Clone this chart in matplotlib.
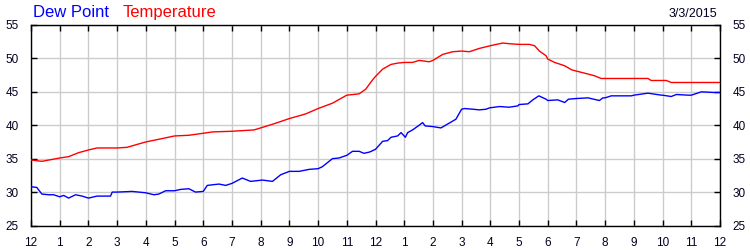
import matplotlib
matplotlib.use("Agg")
import matplotlib.pyplot as plt

# ---- data ----
temp_hours = [0, 0.38, 1.0, 1.31, 1.66, 2.0, 2.3, 3.0, 3.35, 3.75, 4.0, 4.45, 5.0, 5.5, 6.0,
              6.32, 7.0, 7.77, 8.0, 8.52, 9.0, 9.57, 10.0, 10.5, 11.0, 11.43, 11.66, 11.9,
              12.0, 12.25, 12.54, 12.77, 13.0, 13.29, 13.52, 13.87, 14.0, 14.34, 14.69,
              15.0, 15.27, 15.62, 16.0, 16.43, 16.66, 17.0, 17.36, 17.54, 17.71, 17.94,
              18.0, 18.24, 18.59, 18.83, 19.0, 19.28, 19.63, 19.86, 20.0, 21.49, 21.6,
              22.13, 22.3, 24.0]
temp_values = [34.8, 34.6, 35.1, 35.3, 35.9, 36.3, 36.6, 36.6, 36.7, 37.2, 37.5, 37.9, 38.4, 38.5, 38.8,
               39.0, 39.1, 39.3, 39.6, 40.3, 41.0, 41.7, 42.5, 43.3, 44.5, 44.7, 45.4, 46.8,
               47.3, 48.4, 49.1, 49.3, 49.4, 49.4, 49.7, 49.5, 49.7, 50.6, 51.0,
               51.1, 51.0, 51.5, 51.9, 52.3, 52.2, 52.1, 52.1, 51.9, 51.1, 50.4,
               49.9, 49.4, 48.9, 48.3, 48.1, 47.8, 47.4, 47.0, 47.0, 47.0, 46.7,
               46.7, 46.4, 46.4]

dew_hours = [0, 0.2, 0.38, 0.62, 0.79, 1.0, 1.14, 1.31, 1.55, 1.78, 2.0, 2.3, 2.77, 2.83, 3.0,
             3.52, 3.99, 4.28, 4.45, 4.69, 5.0, 5.21, 5.5, 5.73, 6.0, 6.14, 6.55, 6.78, 7.0,
             7.36, 7.65, 8.06, 8.41, 8.7, 9.0, 9.34, 9.69, 10.0, 10.15, 10.5, 10.73, 11.0,
             11.2, 11.43, 11.6, 11.8, 12.0, 12.25, 12.42, 12.54, 12.77, 12.89, 13.04, 13.12,
             13.29, 13.52, 13.64, 13.73, 14.0, 14.28, 14.52, 14.8, 15.0, 15.1, 15.39, 15.62,
             15.85, 15.97, 16.32, 16.66, 16.96, 17.0, 17.31, 17.48, 17.69, 17.94, 18.0,
             18.35, 18.59, 18.72, 19.0, 19.4, 19.8, 19.92, 20.0, 20.21, 20.91, 21.0, 21.49,
             21.96, 22.0, 22.3, 22.48, 22.89, 23.0, 23.35, 23.82, 24.0]
dew_values = [30.8, 30.7, 29.7, 29.6, 29.6, 29.3, 29.5, 29.1, 29.6, 29.4, 29.1, 29.4, 29.4, 30.0, 30.0,
              30.1, 29.9, 29.6, 29.7, 30.2, 30.2, 30.4, 30.5, 30.0, 30.1, 31.0, 31.2, 31.0, 31.3,
              32.1, 31.6, 31.8, 31.6, 32.6, 33.1, 33.1, 33.4, 33.5, 33.8, 35.0, 35.1, 35.5,
              36.1, 36.1, 35.8, 36.0, 36.4, 37.6, 37.7, 38.2, 38.4, 38.9, 38.2, 38.9,
              39.3, 40.0, 40.4, 39.9, 39.8, 39.6, 40.2, 40.9, 42.4, 42.5, 42.4, 42.3,
              42.4, 42.6, 42.8, 42.7, 42.9, 43.1, 43.2, 43.8, 44.4, 43.9, 43.7,
              43.8, 43.4, 43.9, 44.0, 44.1, 43.7, 44.1, 44.1, 44.4, 44.4, 44.5, 44.8,
              44.5, 44.5, 44.3, 44.6, 44.5, 44.5, 45.0, 44.9, 44.9]

x_ticks = list(range(25))
x_labels = ["12", "1", "2", "3", "4", "5", "6", "7", "8", "9", "10", "11",
            "12", "1", "2", "3", "4", "5", "6", "7", "8", "9", "10", "11", "12"]
y_ticks = [25, 30, 35, 40, 45, 50, 55]
date_text = "3/3/2015"

# ---- figure ----
plt.rcParams['font.family'] = ['Liberation Sans', 'DejaVu Sans']
fig = plt.figure(figsize=(7.5, 2.5), dpi=100)
ax = fig.add_axes([31 / 750, 1 - 225.5 / 250, (720 - 31) / 750, (225.5 - 25) / 250])

ax.plot(temp_hours, temp_values, color='#ff0000', lw=1.0, zorder=3)
ax.plot(dew_hours, dew_values, color='#0000ff', lw=1.0, zorder=3)

ax.set_xlim(0, 24)
ax.set_ylim(25, 55)
ax.set_xticks(x_ticks)
ax.set_xticklabels(x_labels)
ax.set_yticks(y_ticks)
ax.grid(True, color='#cccccc', lw=1.0, zorder=0)
ax.set_axisbelow(True)
ax.tick_params(direction='in', length=4, width=1, color='black',
               top=True, right=True, labelright=True, labelsize=8.5,
               labelcolor='#000020')
ax.tick_params(axis='y', pad=9)
ax.tick_params(axis='y', which='both', labelright=True)
for lbl in ax.get_yticklabels(which='both'):
    pass
ax.tick_params(axis='x', pad=8)
for s in ax.spines.values():
    s.set_color('black')
    s.set_linewidth(1.0)

fig.text(33 / 750, 1 - 17.3 / 250, "Dew Point", color='#0000ff', fontsize=12, va='baseline', ha='left')
fig.text(123 / 750, 1 - 17.3 / 250, "Temperature", color='#ff0000', fontsize=12, va='baseline', ha='left')
fig.text(717 / 750, 1 - 17.3 / 250, date_text, color='#000020', fontsize=9, va='baseline', ha='right')

fig.savefig("out.png", dpi=100)
